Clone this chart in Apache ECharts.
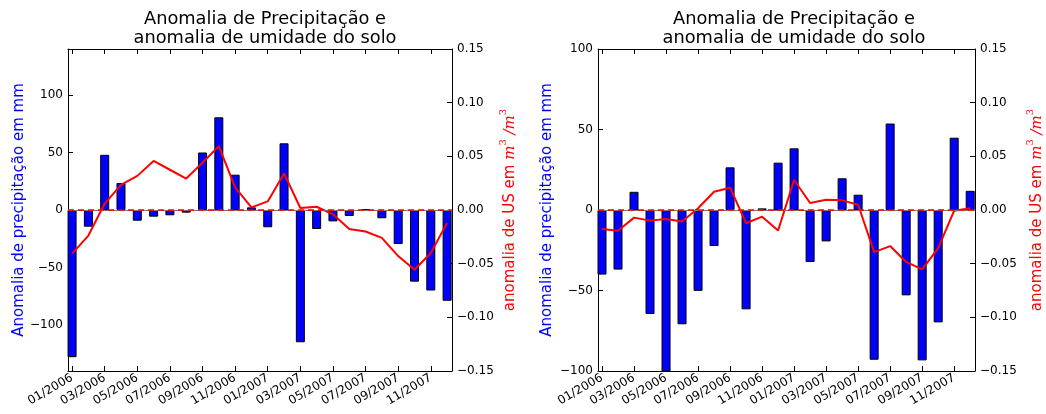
<!DOCTYPE html>
<html>
<head>
<meta charset="utf-8">
<script src="https://cdn.jsdelivr.net/npm/echarts@6/dist/echarts.min.js"></script>
<style>
html,body{margin:0;padding:0;background:#fff;}
#c{width:1046px;height:414px;}
</style>
</head>
<body>
<div id="c"></div>
<script>
// Months (x categories), Jan 2006 .. Dec 2007
const months = ['01/2006','02/2006','03/2006','04/2006','05/2006','06/2006','07/2006','08/2006','09/2006','10/2006','11/2006','12/2006',
                '01/2007','02/2007','03/2007','04/2007','05/2007','06/2007','07/2007','08/2007','09/2007','10/2007','11/2007','12/2007'];
const tickLabels = ['01/2006','03/2006','05/2006','07/2006','09/2006','11/2006','01/2007','03/2007','05/2007','07/2007','09/2007','11/2007'];
const tickIndex = [0,2,4,6,8,10,12,14,16,18,20,22];

// Left panel
const precipLeft = [-128, -14.5, 48, 23.5, -9.3, -5.8, -4.6, -2.3, 50, 80.6, 30.7, 2.3,
                    -15, 58, -115, -16.5, -9.9, -5.2, 0.5, -7.2, -29.6, -62.3, -70, -78.9];
const usLeft = [-0.0407, -0.0238, 0.006, 0.0234, 0.0318, 0.0457, 0.0375, 0.0293, 0.044, 0.0595, 0.021, 0.0025,
                0.008, 0.034, 0.0019, 0.003, -0.004, -0.0176, -0.020, -0.026, -0.0429, -0.0556, -0.040, -0.012];

// Right panel
const precipRight = [-40.1, -37, 11.3, -64.6, -105, -71, -50.2, -22.4, 26.5, -61.7, 1.0, 29.4,
                     38.3, -32.3, -19.5, 19.7, 9.5, -93, 53.7, -53, -93.4, -69.8, 44.9, 11.9];
const usRight = [-0.0176, -0.0194, -0.0071, -0.0099, -0.0083, -0.0108, 0.0016, 0.017, 0.0207, -0.0123, -0.0062, -0.0191,
                 0.028, 0.0065, 0.0096, 0.009, 0.0049, -0.0392, -0.0336, -0.0484, -0.0553, -0.0355, -0.0006, 0.0016];

const leftPrecipTicks = [-100, -50, 0, 50, 100];
const rightPrecipTicks = [-100, -50, 0, 50, 100];

const FONT = 'DejaVu Sans';
const minus = v => String(v).replace('-', '\u2212');

function xAxes(gridIndex) {
  const base = {
    type: 'value', gridIndex: gridIndex, min: -0.25, max: 23.3,
    splitLine: {show: false},
    axisLine: {show: true, onZero: false, lineStyle: {color: '#000', width: 1}},
  };
  return [
    Object.assign({}, base, {
      position: 'bottom',
      axisTick: {show: true, inside: true, length: 5, lineStyle: {color: '#000'}, customValues: tickIndex},
      axisLabel: {show: true, rotate: 30, fontFamily: FONT, fontSize: 12, color: '#000', margin: 6,
                  customValues: tickIndex,
                  formatter: v => tickLabels[tickIndex.indexOf(Math.round(v))] || ''}
    }),
    Object.assign({}, base, {
      position: 'top',
      axisTick: {show: true, inside: true, length: 5, lineStyle: {color: '#000'}, customValues: tickIndex},
      axisLabel: {show: false}
    })
  ];
}

function yAxes(gridIndex, pmin, pmax, pticks, leftGap, rightGap) {
  return [
    {
      type: 'value', gridIndex: gridIndex, position: 'left', min: pmin, max: pmax,
      splitLine: {show: false},
      axisLine: {show: true, onZero: false, lineStyle: {color: '#000', width: 1}},
      axisTick: {show: true, inside: true, length: 5, lineStyle: {color: '#000'}, customValues: pticks},
      axisLabel: {fontFamily: FONT, fontSize: 12, color: '#000', margin: 5, customValues: pticks,
                  formatter: v => minus(Math.round(v))},
      name: 'Anomalia de precipitação em mm',
      nameLocation: 'middle', nameRotate: 90, nameGap: leftGap,
      nameTextStyle: {color: '#0000ff', fontFamily: FONT, fontSize: 15}
    },
    {
      type: 'value', gridIndex: gridIndex, position: 'right', min: -0.15, max: 0.15, interval: 0.05,
      splitLine: {show: false},
      axisLine: {show: true, onZero: false, lineStyle: {color: '#000', width: 1}},
      axisTick: {show: true, inside: true, length: 5, lineStyle: {color: '#000'}},
      axisLabel: {fontFamily: FONT, fontSize: 12, color: '#000', margin: 5,
                  formatter: v => minus(v.toFixed(2))},
      name: '{n|anomalia de US em }{m|m}{s|3}{m| /m}{s|3}',
      nameLocation: 'middle', nameRotate: 90, nameGap: rightGap,
      nameTextStyle: {
        color: '#ff0000', fontFamily: FONT, fontSize: 15,
        rich: {
          n: {color: '#ff0000', fontFamily: FONT, fontSize: 15, lineHeight: 20, verticalAlign: 'bottom'},
          m: {color: '#ff0000', fontFamily: 'DejaVu Serif', fontStyle: 'italic', fontSize: 15, lineHeight: 20, verticalAlign: 'bottom'},
          s: {color: '#ff0000', fontFamily: 'DejaVu Serif', fontSize: 10, lineHeight: 20, verticalAlign: 'top'}
        }
      }
    }
  ];
}

const zeroMark = {
  silent: true, symbol: 'none', label: {show: false},
  data: [{yAxis: 0, lineStyle: {color: '#777', type: 'solid', width: 1}},
         {yAxis: 0, lineStyle: {color: '#ff0000', type: [6, 4], width: 1.5}}]
};

function series(gridIdx, precip, us) {
  const xi = gridIdx * 2, yi = gridIdx * 2;
  return [
    {
      type: 'bar', xAxisIndex: xi, yAxisIndex: yi,
      data: precip.map((v, i) => [i, v]),
      barWidth: 9,
      itemStyle: {color: '#0000ff', borderColor: '#000', borderWidth: 1},
      markLine: zeroMark,
      z: 2
    },
    {
      type: 'line', xAxisIndex: xi, yAxisIndex: yi + 1,
      data: us.map((v, i) => [i, v]),
      symbol: 'none', lineStyle: {color: '#ff0000', width: 2}, itemStyle: {color: '#ff0000'},
      z: 4
    }
  ];
}

const title = 'Anomalia de Precipitação e\nanomalia de umidade do solo';
const chart = echarts.init(document.getElementById('c'), null, {renderer: 'canvas'});
chart.setOption({
  animation: false,
  backgroundColor: '#fff',
  title: [
    {text: title, left: 260, top: 5, textAlign: 'center',
     textStyle: {fontFamily: FONT, fontSize: 17.8, fontWeight: 'normal', color: '#000', lineHeight: 19}},
    {text: title, left: 789, top: 5, textAlign: 'center',
     textStyle: {fontFamily: FONT, fontSize: 17.8, fontWeight: 'normal', color: '#000', lineHeight: 19}}
  ],
  grid: [
    {left: 68, top: 49, width: 384, height: 322},
    {left: 598, top: 49, width: 383, height: 322}
  ],
  xAxis: [].concat(xAxes(0), xAxes(1)),
  yAxis: [].concat(yAxes(0, -140, 140, leftPrecipTicks, 41, 46), yAxes(1, -100, 100, rightPrecipTicks, 43, 50)),
  series: [].concat(series(0, precipLeft, usLeft), series(1, precipRight, usRight))
});
</script>
</body>
</html>
